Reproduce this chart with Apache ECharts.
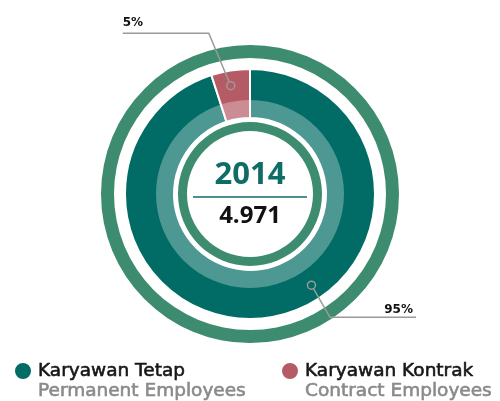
<!DOCTYPE html>
<html>
<head>
<meta charset="utf-8">
<script src="https://cdn.jsdelivr.net/npm/echarts@6/dist/echarts.min.js"></script>
<style>
  html, body { margin: 0; padding: 0; background: #ffffff; }
  #chart { width: 500px; height: 401px; }
</style>
</head>
<body>
<div id="chart"></div>
<script>
// ---- data ----
const categories = ['Karyawan Tetap', 'Karyawan Kontrak'];
const subtitles = ['Permanent Employees', 'Contract Employees'];
const shares = [95, 5];
const yearLabel = '2014';
const totalLabel = '4.971';

// ---- style ----
const sliceColors = ['#006c65', '#b55b66'];
const ringColor = '#3e8c6f';
const leaderColor = '#9a9a9a';
const center = [250, 194];
const leaderStyle = [
  { frac: 0.427, tilt: 1, rMarker: 110, rElbow: 147, dir: 1, arm: 86, gap: 1 },
  { frac: 0.44, tilt: -4.3, rMarker: 110, rElbow: 166, dir: -1, arm: 86, gap: 4 }
];

const total = shares.reduce((a, b) => a + b, 0);
const chart = echarts.init(document.getElementById('chart'), null, { renderer: 'canvas' });

const option = {
  animation: false,
  backgroundColor: '#ffffff',
  polar: { center: center, radius: 149 },
  angleAxis: {
    type: 'value', min: 0, max: total, startAngle: 90, clockwise: true,
    axisLine: { show: false }, axisTick: { show: false }, axisLabel: { show: false }, splitLine: { show: false }
  },
  radiusAxis: {
    type: 'value', min: 0, max: 149,
    axisLine: { show: false }, axisTick: { show: false }, axisLabel: { show: false }, splitLine: { show: false }
  },
  legend: categories.map((c, i) => ({
    data: [c],
    left: [13, 280][i],
    top: 361,
    padding: 0,
    icon: 'circle',
    itemWidth: 18,
    itemHeight: 18,
    selectedMode: false,
    formatter: name => `{a|${name}}\n{b|${subtitles[categories.indexOf(name)]}}`,
    textStyle: {
      padding: [20, 0, 0, 1],
      rich: {
        a: { fontFamily: 'DejaVu Sans', fontSize: 18.5, color: '#161616', lineHeight: 20, textBorderColor: '#161616', textBorderWidth: 0.6 },
        b: { fontFamily: 'DejaVu Sans', fontSize: 18.5, color: '#8a8a8a', lineHeight: 20, textBorderColor: '#8a8a8a', textBorderWidth: 0.6 }
      }
    }
  })),
  series: [
    {
      type: 'pie', silent: true, center: center, radius: [136, 149], z: 1,
      label: { show: false }, labelLine: { show: false },
      itemStyle: { color: ringColor },
      data: [{ value: total }]
    },
    {
      type: 'pie', silent: true, center: center, radius: [76, 125], z: 1,
      startAngle: 90, clockwise: true,
      label: { show: false }, labelLine: { show: false },
      itemStyle: { borderColor: '#ffffff', borderWidth: 2 },
      data: categories.map((c, i) => ({ name: c, value: shares[i], itemStyle: { color: sliceColors[i] } }))
    },
    {
      type: 'pie', silent: true, center: center, radius: [76, 94], z: 1,
      startAngle: 90, clockwise: true,
      label: { show: false }, labelLine: { show: false },
      itemStyle: { color: 'rgba(255,255,255,0.3)', borderWidth: 0 },
      data: shares.map(v => ({ value: v }))
    },
    {
      type: 'pie', silent: true, center: center, radius: [63, 72], z: 1,
      itemStyle: { color: ringColor },
      labelLine: { show: false },
      label: {
        show: true, position: 'center',
        formatter: () => `{y|${yearLabel}}\n{hr|}\n{v|${totalLabel}}`,
        rich: {
          y: { fontFamily: 'Open Sans', fontWeight: 'bold', fontSize: 31, color: '#0f6d68', lineHeight: 42 },
          hr: { width: 114, height: 0, borderColor: '#0f6d68', borderWidth: 1, lineHeight: 2 },
          v: { fontFamily: 'Open Sans', fontWeight: 'bold', fontSize: 24, color: '#111111', lineHeight: 36 }
        }
      },
      data: [{ value: total }]
    },
    {
      type: 'custom', coordinateSystem: 'polar', silent: true, clip: false, z: 20,
      data: shares.map((v, i) => [v, i]),
      renderItem: function (params, api) {
        const i = params.dataIndex;
        const L = leaderStyle[i];
        const start = shares.slice(0, i).reduce((a, b) => a + b, 0);
        const a = start + L.frac * shares[i];
        const degToVal = total / 360;
        const p0 = api.coord([L.rMarker, a]);
        const p1 = api.coord([L.rElbow, a + L.tilt * degToVal]);
        const p2 = [p1[0] + L.dir * L.arm, p1[1]];
        return {
          type: 'group',
          children: [
            { type: 'polyline', z2: 1, shape: { points: [p0, p1, p2] }, style: { stroke: leaderColor, lineWidth: 1.5, fill: null } },
            { type: 'circle', z2: 2, shape: { cx: p0[0], cy: p0[1], r: 4 }, style: { fill: sliceColors[i], stroke: leaderColor, lineWidth: 1.5 } },
            {
              type: 'text', z2: 3,
              style: {
                text: shares[i] + '%',
                x: L.dir < 0 ? p2[0] : p2[0] - 3,
                y: p1[1] - L.gap,
                align: L.dir < 0 ? 'left' : 'right',
                verticalAlign: 'bottom',
                font: 'bold 12px "DejaVu Sans"',
                fill: '#111111'
              }
            }
          ]
        };
      }
    }
  ]
};
chart.setOption(option);
</script>
</body>
</html>
